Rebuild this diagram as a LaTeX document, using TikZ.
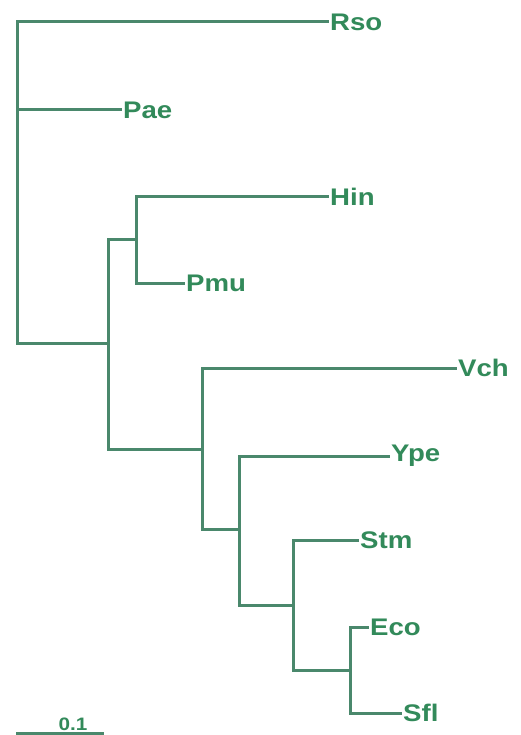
\documentclass[tikz,border=0pt]{standalone}
\usepackage{fontspec}
\usetikzlibrary{calc}
\newfontfamily\lblfont[FakeStretch=1.15]{Liberation Sans}
\definecolor{branch}{RGB}{74,136,108}
\definecolor{lbltext}{RGB}{50,138,90}
\begin{document}
\begin{tikzpicture}[x=1pt,y=-1pt,
  br/.style={draw=branch,line width=3pt,line cap=rect},
  leaf/.style={anchor=west,inner xsep=3pt,inner ysep=1pt,text=lbltext,font=\lblfont\bfseries\fontsize{24}{24}\selectfont}]
\useasboundingbox (0,0) rectangle (520,735);
\fill[white] (0,0) rectangle (520,735);
% internal nodes
\coordinate (root) at (17,110);
\coordinate (n1) at (108,343);
\coordinate (n2) at (136,239);
\coordinate (n3) at (202,449);
\coordinate (n4) at (239,529);
\coordinate (n5) at (293,605);
\coordinate (n6) at (350,670);
% leaves
\node[leaf] (Rso) at (327,22) {Rso};
\node[leaf] (Pae) at (120,110) {Pae};
\node[leaf] (Hin) at (327,197) {Hin};
\node[leaf] (Pmu) at (183,283) {Pmu};
\node[leaf] (Vch) at (455,368) {Vch};
\node[leaf] (Ype) at (388,456) {Ype};
\node[leaf] (Stm) at (357,540) {Stm};
\node[leaf] (Eco) at (367,627) {Eco};
\node[leaf] (Sfl) at (400,713) {Sfl};
% branches
\draw[br] (root) |- (Rso.west);
\draw[br] (root) -- (Pae.west);
\draw[br] (root) |- (n1);
\draw[br] (n1) |- (n2);
\draw[br] (n1) |- (n3);
\draw[br] (n2) |- (Hin.west);
\draw[br] (n2) |- (Pmu.west);
\draw[br] (n3) |- (Vch.west);
\draw[br] (n3) |- (n4);
\draw[br] (n4) |- (Ype.west);
\draw[br] (n4) |- (n5);
\draw[br] (n5) |- (Stm.west);
\draw[br] (n5) |- (n6);
\draw[br] (n6) |- (Eco.west);
\draw[br] (n6) |- (Sfl.west);
% scale bar
\coordinate (sb1) at (17,733);
\coordinate (sb2) at (102,733);
\draw[br] (sb1) -- (sb2);
\node[anchor=south,inner sep=0pt,text=lbltext,font=\lblfont\bfseries\fontsize{18}{18}\selectfont] (sbl) at ($(sb1)!0.66!(sb2)+(0,-2.5)$) {0.1};
\end{tikzpicture}
\end{document}
